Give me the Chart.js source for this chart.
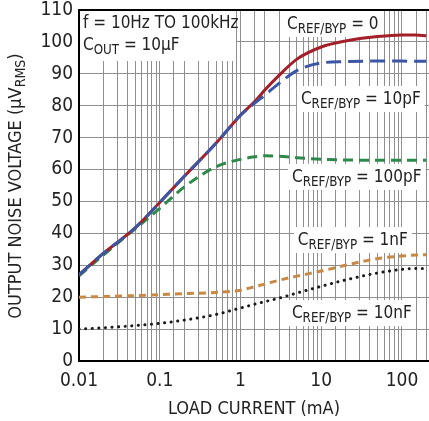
<!DOCTYPE html>
<html>
<head>
<meta charset="utf-8">
<script src="https://cdn.jsdelivr.net/npm/chart.js@4/dist/chart.umd.min.js"></script>
<style>
  html, body { margin: 0; padding: 0; background: #fff; }
  #wrap { width: 429px; height: 421px; position: relative; }
</style>
</head>
<body>
<div id="wrap"><canvas id="noiseChart"></canvas></div>
<script>
// load current (mA) and output noise (uVrms) per C_REF/BYP
const loadCurrent = [0.01, 0.02, 0.05, 0.1, 0.2, 0.5, 1, 1.5, 2, 3, 5, 10, 20, 50, 100, 150, 200];
const noiseC0 =     [27, 33.7, 41.8, 49.7, 57.8, 68.3, 77, 81.3, 84.9, 89.5, 94.6, 98.4, 100.3, 101.7, 102.2, 102.2, 101.9];
const noise10pF =   [27, 33.7, 41.8, 49.7, 57.8, 68.3, 77, 80.8, 83.3, 87, 91, 93.4, 93.8, 94, 94, 93.9, 93.9];
const noise100pF =  [26.7, 33.2, 41.5, 47.8, 54.5, 60.9, 63.2, 64, 64.3, 64.2, 63.7, 63.2, 63, 62.9, 62.9, 62.9, 62.9];
const noise1nF =    [20, 20.2, 20.5, 20.8, 21.1, 21.5, 22.2, 23.3, 24.1, 25.3, 26.6, 28.2, 30, 32.1, 32.9, 33.2, 33.3];
const noise10nF =   [10, 10.4, 11.1, 11.8, 12.8, 14.6, 16.6, 17.8, 18.6, 19.7, 21.3, 23.4, 25.4, 27.6, 28.7, 29, 29];
const xTickLabels = ["0.01", "0.1", "1", "10", "100"];

const FONT = "'Liberation Sans Narrow', 'Arial Narrow', 'DejaVu Sans Condensed', sans-serif";

const toPoints = (ys) => loadCurrent.map((x, i) => ({ x, y: ys[i] }));

// draw text with parts, each part [text, isSub]
function richText(ctx, parts, x, y, size, measureOnly) {
    let w = 0;
    parts.forEach(([t, sub]) => {
        ctx.font = (sub ? size * 0.78 : size) + "px " + FONT;
        if (!measureOnly) ctx.fillText(t, x + w, y + (sub ? size * 0.22 : 0));
        w += ctx.measureText(t).width;
    });
    return w;
}

const curveLabels = [
    { x: 13.9, y: 105.6, value: "0" },
    { x: 30.9, y: 82.1, value: "10pF" },
    { x: 27.5, y: 57.7, value: "100pF" },
    { x: 24.6, y: 37.9, value: "1nF" },
    { x: 23.9, y: 15, value: "10nF" }
];

const annotations = {
    id: "annotations",
    beforeDatasetsDraw(chart) {
        const { ctx, chartArea, scales } = chart;
        ctx.save();
        ctx.fillStyle = "#fff";
        ctx.fillRect(chartArea.left + 1, chartArea.top + 1, 156, 50);
        ctx.fillStyle = "#222";
        ctx.textBaseline = "alphabetic";
        richText(ctx, [["f = 10Hz TO 100kHz", false]], chartArea.left + 4, chartArea.top + 18, 17);
        richText(ctx, [["C", false], ["OUT", true], [" = 10\u00b5F", false]], chartArea.left + 4, chartArea.top + 40, 17);

        curveLabels.forEach((lab) => {
            const parts = [["C", false], ["REF/BYP", true], [" = " + lab.value, false]];
            const w = richText(ctx, parts, 0, 0, 17, true);
            const cx = scales.x.getPixelForValue(lab.x);
            const cy = scales.y.getPixelForValue(lab.y);
            ctx.fillStyle = "#fff";
            ctx.fillRect(cx - w / 2 - 4, cy - 13, w + 8, 26);
            ctx.fillStyle = "#222";
            richText(ctx, parts, cx - w / 2, cy + 5, 17);
        });
        ctx.restore();
    },
    afterDraw(chart) {
        const { ctx, chartArea } = chart;
        ctx.save();
        ctx.strokeStyle = "#000";
        ctx.lineWidth = 2;
        ctx.beginPath();
        ctx.moveTo(chartArea.left - 1, chartArea.top);
        ctx.lineTo(chartArea.right, chartArea.top);
        ctx.stroke();

        ctx.fillStyle = "#222";
        ctx.textBaseline = "alphabetic";
        // x axis title
        ctx.font = "18px " + FONT;
        const xt = "LOAD CURRENT (mA)";
        ctx.fillText(xt, 254 - ctx.measureText(xt).width / 2, 414);
        // y axis title, rotated
        const yParts = [["OUTPUT NOISE VOLTAGE (\u00b5V", false], ["RMS", true], [")", false]];
        const w = richText(ctx, yParts, 0, 0, 18, true);
        ctx.translate(21, 186);
        ctx.rotate(-Math.PI / 2);
        richText(ctx, yParts, -w / 2, 0, 18);
        ctx.restore();
    }
};

const line = (data, color, dash, extra) => Object.assign({
    data: toPoints(data),
    borderColor: color,
    borderWidth: 3,
    borderDash: dash,
    pointRadius: 0,
    fill: false,
    cubicInterpolationMode: "monotone"
}, extra || {});

// eslint-disable-next-line no-new
new Chart(document.getElementById("noiseChart"), {
    type: "line",
    data: {
        datasets: [
            line(noise10pF, "#3b56a6", [15, 7]),
            line(noiseC0, "#a3202a", []),
            line(noise100pF, "#2f8a4a", [10, 6]),
            line(noise1nF, "#c98844", [7, 5]),
            line(noise10nF, "#1a1a1a", [0.1, 6.5], { borderCapStyle: "round", borderWidth: 3 })
        ]
    },
    options: {
        responsive: true,
        maintainAspectRatio: false,
        animation: false,
        layout: { padding: { top: 10, right: 0, left: 0, bottom: 0 } },
        plugins: { legend: { display: false }, tooltip: { enabled: false } },
        scales: {
            x: {
                type: "logarithmic",
                min: 0.01,
                max: 216,
                afterFit: (s) => { s.height = 60; s.paddingLeft = 0; s.paddingRight = 0; },
                grid: { color: "#8f8f8f", lineWidth: 1, drawTicks: false },
                border: { color: "#000", width: 2 },
                ticks: {
                    autoSkip: false,
                    maxRotation: 0,
                    padding: 9,
                    color: "#222",
                    font: { family: FONT, size: 19 },
                    callback: (v) => {
                        const l = Math.log10(v);
                        if (Math.abs(l - Math.round(l)) > 1e-6) return "";
                        return xTickLabels[Math.round(l) + 2] || "";
                    }
                }
            },
            y: {
                min: 0,
                max: 110,
                afterFit: (s) => { s.width = 79; s.paddingTop = 0; s.paddingBottom = 0; },
                grid: { color: "#8f8f8f", lineWidth: 1, drawTicks: false },
                border: { color: "#000", width: 2 },
                ticks: {
                    stepSize: 10,
                    padding: 6,
                    color: "#222",
                    font: { family: FONT, size: 19 }
                }
            }
        }
    },
    plugins: [annotations]
});
</script>
</body>
</html>
